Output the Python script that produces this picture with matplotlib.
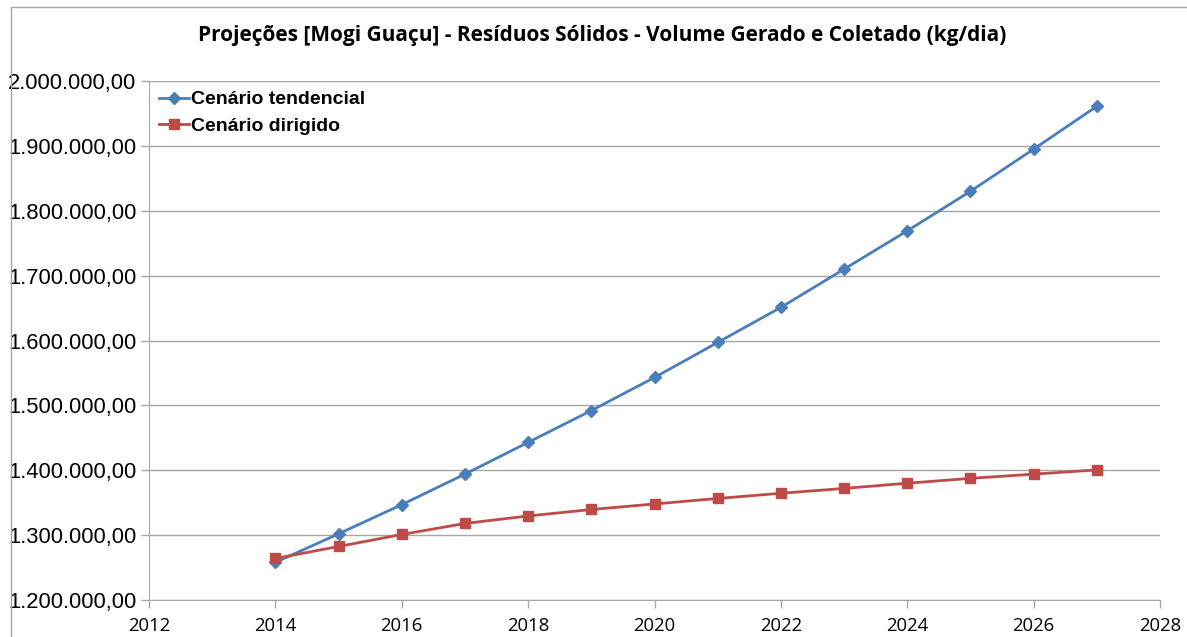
import matplotlib.pyplot as plt
from matplotlib.ticker import FuncFormatter, MultipleLocator
from matplotlib.lines import Line2D

# data
anos = [2014, 2015, 2016, 2017, 2018, 2019, 2020, 2021, 2022, 2023, 2024, 2025, 2026, 2027]
tendencial = [1258000, 1302000, 1347000, 1394000, 1443000, 1492000, 1543000,
              1597000, 1651000, 1710000, 1769000, 1830000, 1895000, 1961000]
dirigido = [1264000, 1282500, 1301000, 1318000, 1329500, 1339500, 1348000,
            1356500, 1364500, 1372000, 1380000, 1387500, 1394000, 1400500]
nomes = ["Cenário tendencial", "Cenário dirigido"]
titulo = "Projeções [Mogi Guaçu] - Resíduos Sólidos - Volume Gerado e Coletado (kg/dia)"

azul = "#4A7EBB"
vermelho = "#BE4B48"
grade = "#A6A6A6"

fig = plt.figure(figsize=(11.87, 6.37), dpi=100)
ax = fig.add_axes([149 / 1187, 1 - 600 / 637, (1160 - 149) / 1187, (600 - 81) / 637])

ax.plot(anos, tendencial, color=azul, lw=2, marker="D", ms=6.5, label=nomes[0], zorder=3)
ax.plot(anos, dirigido, color=vermelho, lw=2, marker="s", ms=7.5, label=nomes[1], zorder=3)

ax.set_xlim(2012, 2028)
ax.set_ylim(1200000, 2000000)
ax.xaxis.set_major_locator(MultipleLocator(2))
ax.yaxis.set_major_locator(MultipleLocator(100000))


def fmt_br(v, pos):
    s = "{:,.2f}".format(v)
    return s.replace(",", "X").replace(".", ",").replace("X", ".")


ax.yaxis.set_major_formatter(FuncFormatter(fmt_br))
ax.grid(axis="y", color=grade, lw=1)
ax.set_axisbelow(True)

for lado in ["top", "right"]:
    ax.spines[lado].set_visible(False)
ax.spines["left"].set_color(grade)
ax.spines["bottom"].set_color(grade)
ax.tick_params(axis="both", colors=grade, length=6, width=1)
ax.tick_params(axis="y", labelcolor="black", labelsize=15.8, pad=3)
ax.tick_params(axis="x", labelcolor="black", labelsize=13.3, pad=6)
for t in ax.get_yticklabels():
    t.set_fontfamily("Liberation Sans")
for t in ax.get_xticklabels():
    t.set_fontfamily("Open Sans")

leg = ax.legend(loc="upper left", frameon=False, handlelength=1.55, handletextpad=0.1,
                labelspacing=0.45, borderaxespad=0.2, borderpad=0.3,
                prop={"family": "Liberation Sans", "weight": "bold", "size": 14})

fig.text(602 / 1187, 1 - 36 / 637, titulo, ha="center", va="center",
         fontsize=15, fontweight="bold", family="Open Sans")

# chart area border
fig.add_artist(Line2D([11 / 1187, 11 / 1187], [0, 1 - 7 / 637], color=grade, lw=1))
fig.add_artist(Line2D([11 / 1187, 1], [1 - 7 / 637, 1 - 7 / 637], color=grade, lw=1))

fig.savefig("out.png", dpi=100)
